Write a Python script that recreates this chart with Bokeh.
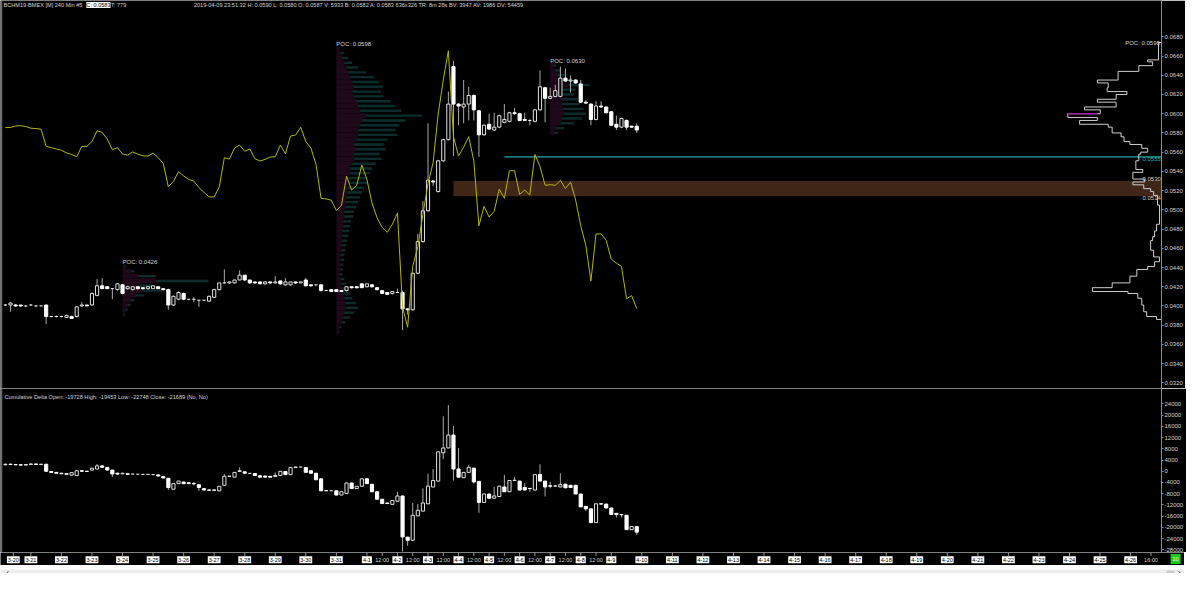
import numpy as np
import pandas as pd
from bokeh.plotting import figure
from bokeh.layouts import column
from bokeh.models import Range1d, FixedTicker, Label, Span, NumeralTickFormatter
from bokeh.core.properties import value
from bokeh.embed import file_html
from bokeh.resources import INLINE

FONT = "Liberation Sans"

# ---------------- data ----------------
bar_start = "2019-03-20 04:00"   # 240 min bars
price_open = [.0401,.0401,.0401,.0401,.0400,.0401,.0400,.0400,.0401,.0389,
              .0389,.0389,.0388,.0389,.0389,.0400,.0401,.0401,.0411,.0421,
              .0420,.0418,.0417,.0422,.0418,.0417,.0420,.0419,.0418,.0418,
              .0420,.0418,.0417,.0401,.0407,.0413,.0407,.0407,.0406,.0406,
              .0405,.0409,.0417,.0424,.0424,.0424,.0427,.0432,.0427,.0425,
              .0425,.0423,.0425,.0424,.0426,.0422,.0422,.0425,.0424,.0427,
              .0422,.0422,.0422,.0416,.0417,.0417,.0416,.0416,.0420,.0420,
              .0423,.0420,.0422,.0419,.0416,.0414,.0413,.0414,.0414,.0397,
              .0396,.0434,.0467,.0499,.0530,.0519,.0551,.0573,.0649,.0610,
              .0607,.0610,.0619,.0603,.0578,.0589,.0583,.0586,.0591,.0592,
              .0601,.0600,.0594,.0593,.0592,.0604,.0627,.0616,.0618,.0618,
              .0637,.0634,.0635,.0631,.0612,.0610,.0594,.0608,.0607,.0602,
              .0589,.0586,.0593,.0587,.0587]
price_high = [.0402,.0404,.0402,.0401,.0401,.0402,.0401,.0401,.0401,.0389,
              .0390,.0390,.0391,.0390,.0400,.0404,.0401,.0414,.0428,.0429,
              .0420,.0418,.0424,.0423,.0421,.0420,.0420,.0419,.0420,.0421,
              .0420,.0418,.0418,.0411,.0415,.0414,.0407,.0409,.0406,.0406,
              .0411,.0418,.0424,.0438,.0425,.0427,.0437,.0432,.0427,.0425,
              .0425,.0426,.0425,.0431,.0427,.0429,.0425,.0425,.0425,.0429,
              .0422,.0422,.0422,.0417,.0417,.0417,.0416,.0420,.0420,.0420,
              .0423,.0423,.0422,.0419,.0416,.0414,.0415,.0418,.0416,.0397,
              .0435,.0475,.0509,.0590,.0531,.0552,.0574,.0623,.0655,.0611,
              .0635,.0628,.0620,.0604,.0589,.0600,.0601,.0599,.0610,.0602,
              .0606,.0601,.0601,.0594,.0605,.0645,.0628,.0627,.0630,.0649,
              .0647,.0640,.0636,.0635,.0614,.0611,.0613,.0613,.0607,.0603,
              .0598,.0596,.0594,.0587,.0590]
price_low = [.0400,.0394,.0399,.0399,.0399,.0400,.0399,.0400,.0381,.0388,
             .0388,.0388,.0388,.0387,.0388,.0399,.0400,.0400,.0410,.0418,
             .0418,.0407,.0416,.0412,.0417,.0416,.0417,.0417,.0417,.0418,
             .0418,.0416,.0396,.0400,.0406,.0406,.0406,.0404,.0399,.0405,
             .0404,.0408,.0416,.0423,.0423,.0423,.0427,.0426,.0423,.0423,
             .0423,.0422,.0423,.0423,.0422,.0421,.0421,.0423,.0424,.0420,
             .0420,.0421,.0415,.0416,.0415,.0415,.0415,.0415,.0418,.0418,
             .0419,.0419,.0419,.0416,.0413,.0412,.0412,.0414,.0375,.0391,
             .0395,.0433,.0466,.0498,.0525,.0518,.0550,.0572,.0556,.0588,
             .0590,.0593,.0593,.0555,.0577,.0583,.0582,.0585,.0590,.0591,
             .0599,.0592,.0593,.0588,.0591,.0603,.0591,.0615,.0617,.0617,
             .0633,.0622,.0631,.0611,.0610,.0588,.0593,.0606,.0600,.0587,
             .0583,.0585,.0583,.0585,.0580]
price_close = [.0401,.0403,.0400,.0400,.0400,.0401,.0400,.0400,.0389,.0389,
               .0389,.0389,.0390,.0387,.0399,.0401,.0400,.0413,.0421,.0418,
               .0418,.0418,.0423,.0413,.0420,.0420,.0418,.0418,.0420,.0421,
               .0418,.0417,.0401,.0410,.0414,.0407,.0407,.0407,.0406,.0406,
               .0410,.0417,.0424,.0424,.0425,.0427,.0432,.0427,.0424,.0424,
               .0423,.0425,.0424,.0425,.0423,.0425,.0425,.0424,.0425,.0421,
               .0421,.0422,.0416,.0416,.0415,.0415,.0415,.0420,.0419,.0419,
               .0419,.0423,.0420,.0417,.0413,.0412,.0415,.0414,.0397,.0396,
               .0434,.0467,.0499,.0531,.0529,.0551,.0573,.0610,.0610,.0608,
               .0610,.0619,.0604,.0578,.0588,.0584,.0586,.0598,.0594,.0601,
               .0600,.0593,.0593,.0593,.0604,.0628,.0616,.0618,.0624,.0637,
               .0634,.0635,.0632,.0612,.0611,.0594,.0608,.0607,.0601,.0588,
               .0586,.0595,.0586,.0586,.0583]

# overlay (yellow) series on the price scale
overlay_close = [.05856,.05856,.05872,.05876,.05866,.05849,.05845,.05839,.05660,.05646,
                 .05633,.05619,.05592,.05576,.05552,.05660,.05660,.05710,.05822,.05805,
                 .05737,.05626,.05646,.05582,.05569,.05602,.05579,.05562,.05559,.05589,
                 .05542,.05484,.05238,.05296,.05397,.05353,.05316,.05299,.05231,.05181,
                 .05134,.05134,.05238,.05542,.05528,.05643,.05673,.05609,.05633,.05532,
                 .05508,.05525,.05549,.05552,.05673,.05582,.05768,.05778,.05859,.05710,
                 .05643,.05474,.05120,.05113,.05100,.04992,.05046,.05350,.05205,.05255,
                 .05464,.05316,.05070,.04918,.04817,.04766,.04850,.04968,.03990,.03778,
                 .04412,.04614,.04952,.05272,.05491,.05997,.06351,.06655,.05761,.05559,
                 .05653,.05761,.05508,.04834,.05036,.04925,.04985,.05215,.05120,.05407,
                 .05407,.05161,.05205,.05154,.05576,.05451,.05255,.05262,.05255,.05306,
                 .05221,.05289,.05103,.04834,.04631,.04260,.04749,.04749,.04682,.04486,
                 .04446,.04412,.04075,.04108,.03973]

# cumulative delta candles
delta_open = [2300,2500,2400,2300,2200,2400,2600,2400,2500,-100,
              -400,-700,-1200,-1400,-1500,200,0,400,800,1900,
              1350,430,-700,-900,-900,-1000,-1050,-1100,-1100,-1200,
              -1300,-1900,-2500,-6400,-4400,-3850,-4100,-4400,-4800,-6200,
              -6700,-6700,-7000,-5000,-1800,-2100,-100,-200,-750,-800,
              -1600,-1700,-1800,-1900,-1500,-100,-1200,1300,1500,1350,
              200,-700,-2700,-6900,-6950,-6960,-8470,-7890,-4190,-6160,
              -5350,-2690,-4650,-7310,-9970,-11300,-11800,-10700,-8800,-23470,
              -24600,-15900,-14200,-11600,-5600,-3500,6600,8300,12900,800,
              -2300,-400,1100,-3600,-11100,-8100,-9600,-9000,-5600,-7300,
              -3300,-3500,-5800,-6100,-6700,-1200,-3500,-5200,-5300,-5600,
              -4600,-5000,-5000,-8100,-12500,-13400,-18300,-11600,-11700,-13100,
              -15000,-15400,-15700,-20800,-19728]
delta_high = [2700,2800,2600,2500,2500,2900,2700,2700,2600,0,
              -300,-600,-600,-400,300,400,100,1200,2600,2200,
              1500,500,-500,-600,-800,-900,-950,-1000,-1000,-1100,
              -1200,-1800,-2400,-4300,-3400,-3700,-4000,-3850,-4700,-6100,
              -6600,-6600,-5300,-1000,-1700,-300,1350,-100,-650,-700,
              -1500,-1600,-1700,-400,0,0,1400,1600,1600,1500,
              300,-600,-2600,-6800,-6850,-6900,-7300,-4100,-4100,-5300,
              -2600,-2600,-4600,-7200,-9900,-11200,-10300,-7300,-8700,-23400,
              -11300,-11600,-6100,-900,800,7000,19600,23600,16100,8300,
              -300,2300,1200,-3500,-8000,-8000,-5600,-5200,-1300,-3200,
              -2100,-3400,-4200,-6000,-1100,2500,-3400,-3800,-5100,-700,
              -4500,-4900,-4900,-8000,-12400,-13300,-11500,-11500,-11600,-13000,
              -14900,-15300,-15600,-19600,-19453]
delta_low = [2100,2200,2200,2100,2100,2300,2300,2200,-300,-500,
             -800,-1000,-1300,-1600,-1600,-100,-200,300,700,1300,
             300,-2100,-1300,-1100,-1200,-1100,-1150,-1200,-1200,-1300,
             -1800,-2500,-6700,-6500,-4500,-4500,-4500,-5000,-7000,-6800,
             -6900,-7100,-7100,-5100,-1900,-2200,-200,-800,-850,-1600,
             -2200,-2200,-2200,-2000,-1600,-1300,-1300,1200,1400,-500,
             -800,-3100,-7100,-7000,-7050,-8600,-8500,-8000,-6200,-6200,
             -5400,-4500,-7400,-10000,-11600,-11600,-11900,-10800,-28600,-26600,
             -24700,-16000,-14300,-11700,-5700,-3600,4300,8200,-3300,-2200,
             -2400,-500,-4400,-14800,-11200,-9700,-9700,-9100,-7400,-7400,
             -3400,-6800,-6800,-7300,-6800,-3600,-9000,-6100,-5400,-5700,
             -6000,-5900,-8200,-12800,-14200,-18400,-18400,-11800,-13200,-15500,
             -16500,-16500,-20900,-20900,-22748]
delta_close = [2500,2400,2300,2200,2400,2600,2400,2500,0,-400,
               -700,-900,-800,-500,200,0,-50,1100,1900,1400,
               430,-960,-1000,-700,-1100,-1000,-1050,-1100,-1100,-1200,
               -1700,-2400,-5800,-4400,-3500,-4420,-4400,-4450,-5800,-6700,
               -6750,-6750,-5350,-1800,-1750,-400,200,-700,-750,-1500,
               -2100,-2100,-2100,-1500,-30,-1200,1350,1500,1500,-380,
               -700,-3040,-6960,-6950,-6950,-8470,-7310,-4190,-6160,-5350,
               -2690,-4420,-7310,-9970,-11500,-11500,-10400,-8800,-23400,-24630,
               -15700,-13900,-11300,-5300,-3300,6900,8300,12900,800,-2100,
               -400,1400,-3800,-11100,-8100,-9600,-8800,-5300,-7300,-3300,
               -3200,-6700,-6700,-6200,-1200,-3500,-5600,-5300,-5200,-4800,
               -5900,-5800,-8100,-12700,-13400,-18300,-11600,-11700,-13100,-15400,
               -15400,-15500,-20800,-19700,-21689]

# weekly volume profiles (sell / buy volume per price level)
vp1_start = "2019-03-24 00:00"
vp1_levels = [.0441,.0436,.0431,.0426,.0421,.0416,.0411,.0406,.0401,.0396,.0391]
vp1_sell = [3,8,16,34,17,20,13,8,5,3,2]
vp1_buy = [1,4,18,53,13,20,9,4,3,2,1]

vp2_start = "2019-03-31 00:00"
vp2_levels = [.0668,.0663,.0658,.0653,.0648,.0643,.0638,.0633,.0628,.0623,
              .0618,.0613,.0608,.0603,.0598,.0593,.0588,.0583,.0578,.0573,
              .0568,.0563,.0558,.0553,.0548,.0543,.0538,.0533,.0528,.0523,
              .0518,.0513,.0508,.0503,.0498,.0493,.0488,.0483,.0478,.0473,
              .0468,.0463,.0458,.0453,.0448,.0443,.0438,.0433,.0428,.0423,
              .0418,.0413,.0408,.0403,.0398,.0393,.0388,.0383,.0378,.0373]
vp2_sell = [2,4,6,8,10,12,14,16,17,16, 18,20,22,24,30,26,24,22,22,20,
            18,19,17,18,16,14,14,12,13,12, 11,10,9,9,8,8,7,7,6,6,
            5,5,5,4,4,4,4,3,4,5, 6,7,8,9,10,8,7,5,3,2]
vp2_buy = [1,4,6,8,12,18,24,27,30,29, 30,35,38,42,57,44,40,38,40,32,
           30,31,27,28,24,22,20,18,19,16, 15,14,13,11,10,9,8,7,7,6,
           6,5,4,4,4,3,3,3,4,5, 6,7,8,11,12,10,7,4,2,1]

vp3_start = "2019-04-07 00:00"
vp3_levels = [.0650,.0645,.0640,.0635,.0630,.0625,.0620,.0615,.0610,.0605,.0600,.0595,.0590,.0585,.0580]
vp3_sell = [3,5,8,10,18,12,10,11,12,13,14,12,10,6,4]
vp3_buy = [3,5,8,12,22,14,14,17,18,21,22,20,14,8,4]

# composite profile on the right (level edges and volume)
rp_edges = [.0674,.0656,.0654,.0650,.0644,.0635,.0632,.0627,.0623,.0620,
            .0615,.0612,.0607,.0604,.0600,.0596,.0593,.0589,.0586,.0580,
            .0576,.0571,.0568,.0564,.0560,.0558,.0551,.0542,.0539,.0532,
            .0529,.0526,.0522,.0519,.0515,.0505,.0485,.0478,.0472,.0468,
            .0458,.0451,.0446,.0441,.0438,.0431,.0424,.0419,.0415,.0413,
            .0408,.0401,.0394,.0389,.0386]
rp_vol = [3,14,9,23,44,65,54,55,35,46, 65,46,78,62,95,65,83,54,50,41,
          38,32,20,14,21,23,26,19,29,17, 29,18,11,8,4,2,5,7,9,11,
          8,2,7,14,25,32,50,70,34,24, 20,18,15,5]

support_level = 0.0555
support_from = "2019-04-05 12:00"
zone_low, zone_high = 0.0514, 0.0530
zone_from = "2019-04-03 20:00"
last_price = 0.0583

price_ticks = [0.032,0.034,0.036,0.038,0.040,0.042,0.044,0.046,0.048,0.050,
               0.052,0.054,0.056,0.058,0.060,0.062,0.064,0.066,0.068]
delta_ticks = [-28000,-24000,-20000,-16000,-12000,-8000,-4000,0,4000,8000,12000,16000,20000,24000]

header_left = "BCHM19-BMEX [M]  240 Min  #5"
header_close = "C: 0.0583"
header_trades = "T: 779"
header_right = ("2019-04-09 23:51:32 H: 0.0590 L: 0.0580 O: 0.0587 V: 5933 B: 0.0582 A: 0.0583 "
                "636x326 TR: 8m 28s BV: 3947 AV: 1986 DV: 54459")
delta_header = "Cumulative Delta  Open: -19728  High: -19453  Low: -22748  Close: -21689  (No, No)"

# ---------------- geometry (reference pixels) ----------------
PX_PER_BAR = 5.16
X0_PX = 5.0
SY = 573 / 589.0
SX = 1184 / 1200.0

def bx(xref):
    return (xref - X0_PX) / PX_PER_BAR

def py(yref):
    return 0.068 - (yref - 37.3) / 9882.0

def dy(yref):
    return (483.9 - yref) / 0.002885

start_ts = pd.Timestamp(bar_start)
def bar_of(ts):
    return (pd.Timestamp(ts) - start_ts) / pd.Timedelta(hours=4)

n = len(price_open)
xi = np.arange(n, dtype=float)

FW = 1161
HA, HB, HX, HS = 388, 164, 13, 8
A_BOT = HA / SY
B_BOT = A_BOT + HB / SY
X_START, X_END = bx(0), bx(FW / SX)

WICK = "#a9a9a9"
HOLLOW = "#e0e0e0"
FILLED = "#ffffff"
TXT = "#d2d2d2"


def make_fig(fw, fh, xr, yr, right_axis):
    p = figure(frame_width=fw, frame_height=fh, x_range=xr, y_range=yr,
               output_backend="svg", toolbar_location=None, tools="",
               x_axis_location=None, y_axis_location="right" if right_axis else None,
               background_fill_color="black", border_fill_color="black",
               outline_line_color=None, min_border=0)
    p.min_border_left = 0
    p.min_border_top = 0
    p.min_border_bottom = 0
    p.min_border_right = 23 if right_axis else 0
    p.grid.visible = False
    if right_axis:
        ax = p.yaxis[0]
        ax.axis_line_color = "#8c8c8c"
        ax.major_tick_line_color = "#8c8c8c"
        ax.major_tick_in = 0
        ax.major_tick_out = 2
        ax.minor_tick_line_color = None
        ax.major_label_text_color = TXT
        ax.major_label_text_font_size = "6px"
        ax.major_label_text_font = FONT
        ax.major_label_standoff = 1
    return p


def candles(p, x, o, h, l, c, w=0.62):
    o, h, l, c = (np.asarray(v, dtype=float) for v in (o, h, l, c))
    p.segment(x, h, x, l, line_color=WICK, line_width=1)
    up, dn, eq = c > o, c < o, c == o
    p.vbar(x=x[up], width=w, top=c[up], bottom=o[up], fill_color="black",
           line_color=HOLLOW, line_width=1)
    p.vbar(x=x[dn], width=w, top=o[dn], bottom=c[dn], fill_color=FILLED,
           line_color=FILLED, line_width=1)
    p.segment(x[eq] - w / 2, o[eq], x[eq] + w / 2, o[eq], line_color=FILLED, line_width=1)


def lab(p, x, y, text, color=TXT, size="6px", align="left", bg=None, base="middle"):
    p.add_layout(Label(x=x, y=y, text=text, text_color=color, text_font=FONT,
                       text_font_size=size, text_align=align, text_baseline=base,
                       background_fill_color=bg))


# ---------------- top panel (price) ----------------
xr = Range1d(X_START, X_END)
pa = make_fig(FW, HA, xr, Range1d(py(A_BOT), py(0)), True)
pa.yaxis[0].ticker = FixedTicker(ticks=price_ticks)
pa.yaxis[0].formatter = NumeralTickFormatter(format="0.0000")

MAG_FILL = "#1f0819"
TEAL_FILL = "#0c2c2c"
for st, lv, sv, bv in ((vp1_start, vp1_levels, vp1_sell, vp1_buy),
                       (vp2_start, vp2_levels, vp2_sell, vp2_buy),
                       (vp3_start, vp3_levels, vp3_sell, vp3_buy)):
    x0 = bar_of(st)
    lv = np.asarray(lv); sv = np.asarray(sv, float) / PX_PER_BAR; bv = np.asarray(bv, float) / PX_PER_BAR
    pa.hbar(y=lv, left=x0, right=x0 + sv, height=0.0005, fill_color=MAG_FILL, line_color=None)
    pa.hbar(y=lv, left=x0 + sv, right=x0 + sv + bv, height=0.00025, fill_color=TEAL_FILL, line_color=None)
    poc = lv[np.argmax(sv + bv)]
    lab(pa, x0, lv.max() + 0.0005, f"POC: {poc:.4f}")

# zone and support
zx0 = bar_of(zone_from)
pa.quad(left=zx0, right=X_END, bottom=zone_low, top=zone_high, fill_color="#3f2617", line_color=None)
sx0 = bar_of(support_from)
pa.segment(sx0, support_level, X_END, support_level, line_color="#1fa8a8", line_width=1.2)

# composite profile
edges = np.asarray(rp_edges); vols = np.asarray(rp_vol, float)
xl = X_END - vols / PX_PER_BAR
xs, ys = [X_END], [edges[0]]
for k in range(len(vols)):
    xs += [xl[k], xl[k]]
    ys += [edges[k], edges[k + 1]]
xs.append(X_END); ys.append(edges[-1])
pa.line(xs, ys, line_color="#cfcfcf", line_width=1)
kp = int(np.argmax(vols))
pa.segment(xl[kp], edges[kp], xl[kp + 1], edges[kp], line_color="#a020a0", line_width=1.5)
rpoc = (edges[kp] + edges[kp + 1]) / 2
lab(pa, bx(1175), edges[0], f"POC: {rpoc:.4f}", align="right")

candles(pa, xi, price_open, price_high, price_low, price_close)
pa.line(xi, overlay_close, line_color="#b4b40c", line_width=1)

# level labels near the axis
lab(pa, bx(1176), support_level, f"{support_level:.4f}", color="#22b5b5", align="right", base="top")
lab(pa, bx(1176), zone_high, f"{zone_high:.4f}", align="right", base="bottom")
lab(pa, bx(1176), zone_low, f"{zone_low:.4f}", align="right", base="top")
lab(pa, bx(1180), last_price, f"{last_price:.4f}", color="black", bg="white")

# header
yh = py(4.5)
lab(pa, bx(3), yh, header_left, size="5.6px")
lab(pa, bx(87), yh, header_close, color="black", bg="white", size="5.6px")
lab(pa, bx(112), yh, header_trades, size="5.6px")
lab(pa, bx(196), yh, header_right, size="5.6px")
pa.add_layout(Span(location=X_START + 0.15, dimension="height", line_color="#6a6a6a", line_width=2))

# ---------------- lower panel (cumulative delta) ----------------
pb = make_fig(FW, HB, xr, Range1d(dy(B_BOT), dy(A_BOT)), True)
pb.yaxis[0].ticker = FixedTicker(ticks=delta_ticks)
pb.yaxis[0].formatter = NumeralTickFormatter(format="0")
candles(pb, xi, delta_open, delta_high, delta_low, delta_close)
lab(pb, bx(4), dy(408), delta_header, size="5.6px")
pb.add_layout(Span(location=X_START + 0.15, dimension="height", line_color="#6a6a6a", line_width=2))

# ---------------- time axis band ----------------
px = make_fig(1184, HX, Range1d(X_START, bx(1200)), Range1d(0, 1), False)
days = pd.date_range("2019-03-20", "2019-04-26", freq="D")
tick_x, tick_txt, boxed = [], [], []
for d in days:
    tick_x.append(max(bar_of(d), bx(13)))
    tick_txt.append(f"{d.month}-{d.day}")
    boxed.append(True)
for d in pd.date_range("2019-04-01 12:00", "2019-04-08 12:00", freq="D"):
    tick_x.append(bar_of(d)); tick_txt.append("12:00"); boxed.append(False)
tick_x.append(bar_of("2019-04-26 16:00")); tick_txt.append("16:00"); boxed.append(False)
tick_x = np.asarray(tick_x); boxed = np.asarray(boxed)
bt = [t for t, b in zip(tick_txt, boxed) if b]
nt = [t for t, b in zip(tick_txt, boxed) if not b]
px.segment(tick_x, 1.0, tick_x, 0.74, line_color="#9a9a9a", line_width=1)
px.rect(x=tick_x[boxed], y=0.45, width=[len(t) * 2.7 + 2 for t in bt], height=7,
        width_units="screen", height_units="screen", fill_color="white", line_color=None)
px.text(x=tick_x[boxed], y=0.45, text=bt, text_color="black", text_font=value(FONT),
        text_font_size="5.5px", text_align="center", text_baseline="middle")
px.text(x=tick_x[~boxed], y=0.45, text=nt, text_color=TXT, text_font=value(FONT),
        text_font_size="5.5px", text_align="center", text_baseline="middle")
px.rect(x=[bx(1191)], y=[0.5], width=10, height=10, width_units="screen", height_units="screen",
        fill_color="#1ec81e", line_color=None)
px.text(x=[bx(1191)], y=[0.5], text=["10"], text_color="#eaffea", text_font=value(FONT),
        text_font_size="5.5px", text_align="center", text_baseline="middle")

# ---------------- scrollbar strip ----------------
ps = make_fig(1184, HS, Range1d(0, 1200), Range1d(0, 1), False)
ps.background_fill_color = "#eeeeee"
ps.border_fill_color = "#eeeeee"
ps.rect(x=[1186], y=[0.5], width=8, height=6, width_units="screen", height_units="screen",
        fill_color="#cdcdcd", line_color=None)
# scroll arrows drawn as chevrons
ps.multi_line(xs=[[8, 6, 8], [1194, 1196, 1194]], ys=[[0.8, 0.5, 0.2], [0.8, 0.5, 0.2]],
              line_color="#555555", line_width=1)

layout = column(pa, pb, px, ps, spacing=0)
open("out.html", "w").write(file_html(layout, INLINE))
